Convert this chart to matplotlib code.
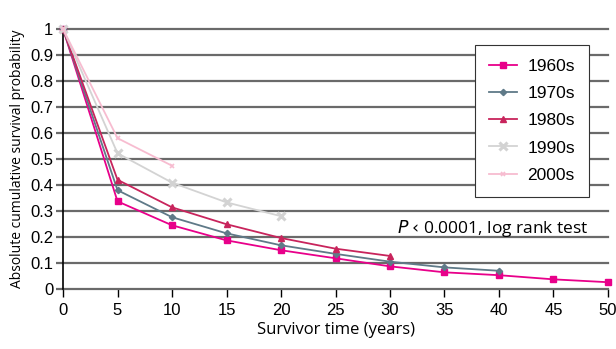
import numpy as np
import matplotlib.pyplot as plt

# Data
years = [0, 5, 10, 15, 20, 25, 30, 35, 40, 45, 50]

s1960 = [1.0, 0.337, 0.245, 0.187, 0.149, 0.118, 0.087, 0.064, 0.053, 0.037, 0.026]
s1970 = [1.0, 0.380, 0.276, 0.214, 0.168, 0.135, 0.105, 0.083, 0.070]
s1980 = [1.0, 0.420, 0.314, 0.249, 0.196, 0.155, 0.127]
s1990 = [1.0, 0.522, 0.409, 0.333, 0.280]
s2000 = [1.0, 0.580, 0.474]

labels = ["1960s", "1970s", "1980s", "1990s", "2000s"]
series = [s1960, s1970, s1980, s1990, s2000]
colors = ["#e8008a", "#5f7a88", "#c8245c", "#d3d3d3", "#f7bcd0"]
markers = ["s", "D", "^", "x", "x"]
msizes = [4.5, 3.2, 4.5, 6, 3.5]
mews = [1, 1, 1, 2.2, 1.2]

plt.rcParams["font.family"] = ["Liberation Sans", "DejaVu Sans"]

fig = plt.figure(figsize=(6.16, 3.49), dpi=100)
ax = fig.add_axes([0.1023, 0.172, 0.8847, 0.745])

for yvals, lab, col, mk, ms, mw in zip(series, labels, colors, markers, msizes, mews):
    ax.plot(years[:len(yvals)], yvals, color=col, marker=mk, markersize=ms,
            markeredgewidth=mw, lw=1.3, label=lab, clip_on=False, zorder=3)

ax.set_xlim(0, 50)
ax.set_ylim(0, 1)
ax.set_xticks(np.arange(0, 51, 5))
ax.set_yticks(np.arange(0, 1.01, 0.1))
ax.set_yticklabels(["0", "0.1", "0.2", "0.3", "0.4", "0.5", "0.6", "0.7", "0.8", "0.9", "1"])

ax.grid(axis="y", color="#6a6a6a", lw=1.6)
for gl in ax.get_ygridlines():
    gl.set_clip_on(False)
ax.set_axisbelow(True)
for side in ["top", "right", "bottom"]:
    ax.spines[side].set_visible(False)
ax.spines["left"].set_color("black")
ax.spines["left"].set_linewidth(1.2)

ax.tick_params(axis="x", direction="out", length=6, width=1, color="black",
               labelsize=12, pad=4)
ax.tick_params(axis="y", direction="out", length=5, width=1.6, color="#6a6a6a",
               labelsize=12, pad=2)

ax.set_xlabel("Survivor time (years)", fontsize=12, family=["Open Sans", "DejaVu Sans"],
              labelpad=3)
ax.set_ylabel("Absolute cumulative survival probability", fontsize=10,
              family=["Open Sans", "DejaVu Sans"], labelpad=4)

ax.text(0.964, 0.233, r"$\it{P}$ ‹ 0.0001, log rank test", transform=ax.transAxes,
        ha="right", va="center", fontsize=12.5, family=["Open Sans", "DejaVu Sans"])

leg = ax.legend(loc="upper right", bbox_to_anchor=(0.965, 0.94), fontsize=12.5,
                frameon=True, fancybox=False, edgecolor="#333333", framealpha=1,
                handlelength=1.6, handletextpad=0.6, labelspacing=0.7,
                borderpad=0.8, borderaxespad=0)
leg.get_frame().set_linewidth(0.8)

fig.savefig("out.png", dpi=100)
